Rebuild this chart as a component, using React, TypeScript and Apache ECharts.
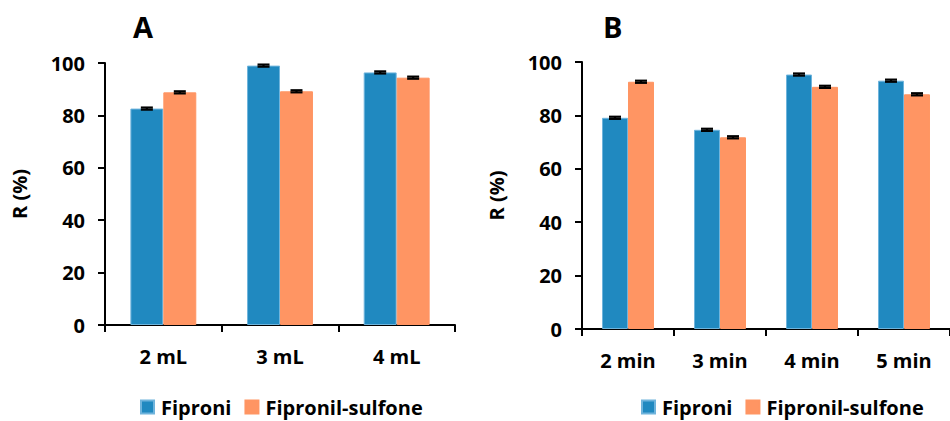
import React, { useEffect, useRef } from "react";
import * as echarts from "echarts";

const catsA = ["2 mL", "3 mL", "4 mL"];
const fipA = [82.6, 99.0, 96.4];
const sulA = [88.8, 89.2, 94.4];
const errFipA = [0.4, 0.4, 0.4];
const errSulA = [0.4, 0.4, 0.4];

const catsB = ["2 min", "3 min", "4 min", "5 min"];
const fipB = [79.1, 74.6, 95.3, 93.0];
const sulB = [92.6, 71.8, 90.7, 87.9];
const errFipB = [0.4, 0.4, 0.4, 0.4];
const errSulB = [0.4, 0.4, 0.4, 0.4];

const yTicks = [0, 20, 40, 60, 80, 100];

const BLUE = "#2089C0";
const ORANGE = "#FF9563";
const FONT = "Open Sans";
const GAP = 0.435;

function errSeries(name: string, grid: number, vals: number[], errs: number[], side: number) {
  return {
    type: "custom",
    name: name + "-err",
    xAxisIndex: grid,
    yAxisIndex: grid,
    z: 10,
    silent: true,
    data: vals.map((v, i) => [i, v, errs[i]]),
    renderItem: (params: any, api: any) => {
      const i = api.value(0);
      const v = api.value(1);
      const e = api.value(2);
      const band = api.size([1, 0])[0];
      const bw = (band * (1 - GAP)) / 2;
      const c = api.coord([i, v]);
      const x = c[0] + side * bw / 2;
      const top = api.coord([i, v + e])[1];
      const bot = api.coord([i, v - e])[1];
      const half = 6;
      const st = { stroke: "#000", lineWidth: 2.2 };
      return {
        type: "group",
        children: [
          { type: "line", shape: { x1: x - half, y1: top, x2: x + half, y2: top }, style: st },
          { type: "line", shape: { x1: x - half, y1: bot, x2: x + half, y2: bot }, style: st },
          { type: "line", shape: { x1: x, y1: top, x2: x, y2: bot }, style: st },
        ],
      };
    },
  };
}

function xAxis(grid: number, cats: string[]) {
  return {
    type: "category",
    gridIndex: grid,
    data: cats,
    boundaryGap: true,
    axisLine: { lineStyle: { color: "#000", width: 2 } },
    axisTick: { show: true, length: 7, lineStyle: { color: "#000", width: 2 } },
    axisLabel: { color: "#000", fontFamily: FONT, fontWeight: "bold", fontSize: 20, margin: 21 },
  };
}

function yAxis(grid: number, gap: number) {
  return {
    type: "value",
    gridIndex: grid,
    min: 0,
    max: 100,
    interval: 20,
    name: "R (%)",
    nameLocation: "middle",
    nameRotate: 90,
    nameGap: gap,
    nameTextStyle: { color: "#000", fontFamily: FONT, fontWeight: "bold", fontSize: 20 },
    axisLine: { show: true, lineStyle: { color: "#000", width: 2 } },
    axisTick: { show: true, length: 7, lineStyle: { color: "#000", width: 2 } },
    splitLine: { show: false },
    axisLabel: {
      color: "#000",
      fontFamily: FONT,
      fontWeight: "bold",
      fontSize: 20,
      margin: 20,
      formatter: (v: number) => (yTicks.includes(v) ? String(v) : ""),
    },
  };
}

function bar(name: string, grid: number, vals: number[], color: string) {
  return {
    type: "bar",
    name,
    xAxisIndex: grid,
    yAxisIndex: grid,
    data: vals,
    barGap: "0%",
    barCategoryGap: "43.5%",
    itemStyle: { color, borderColor: color === BLUE ? "#6FB4DC" : color, borderWidth: 1 },
  };
}

function legend(left: number) {
  return {
    left,
    top: 392,
    itemWidth: 13,
    itemHeight: 13,
    itemGap: 13,
    icon: "rect",
    data: ["Fiproni", "Fipronil-sulfone"],
    textStyle: { color: "#000", fontFamily: FONT, fontWeight: "bold", fontSize: 20, padding: [0, 0, 0, 2] },
  };
}

export default function App() {
  const ref = useRef<HTMLDivElement>(null);
  useEffect(() => {
    if (!ref.current) return;
    const chart = echarts.init(ref.current, null, { renderer: "svg" });
    chart.setOption({
      animation: false,
      backgroundColor: "#fff",
      title: [
        { text: "A", left: 128, top: 7, textStyle: { fontFamily: FONT, fontWeight: "bold", fontSize: 29, color: "#000" } },
        { text: "B", left: 598, top: 7, textStyle: { fontFamily: FONT, fontWeight: "bold", fontSize: 29, color: "#000" } },
      ],
      legend: [legend(135), legend(636)],
      grid: [
        { left: 105, top: 63, width: 350, height: 262 },
        { left: 582, top: 62, width: 376, height: 267 },
      ],
      xAxis: [xAxis(0, catsA), xAxis(1, catsB)],
      yAxis: [yAxis(0, 76), yAxis(1, 76)],
      series: [
        bar("Fiproni", 0, fipA, BLUE),
        bar("Fipronil-sulfone", 0, sulA, ORANGE),
        bar("Fiproni", 1, fipB, BLUE),
        bar("Fipronil-sulfone", 1, sulB, ORANGE),
        errSeries("Fiproni", 0, fipA, errFipA, -1),
        errSeries("Fipronil-sulfone", 0, sulA, errSulA, 1),
        errSeries("Fiproni", 1, fipB, errFipB, -1),
        errSeries("Fipronil-sulfone", 1, sulB, errSulB, 1),
      ],
    });
    return () => chart.dispose();
  }, []);
  return (
    <div
      ref={ref}
      style={{ position: "absolute", left: 0, top: 0, width: 950, height: 421, overflow: "hidden" }}
    />
  );
}
